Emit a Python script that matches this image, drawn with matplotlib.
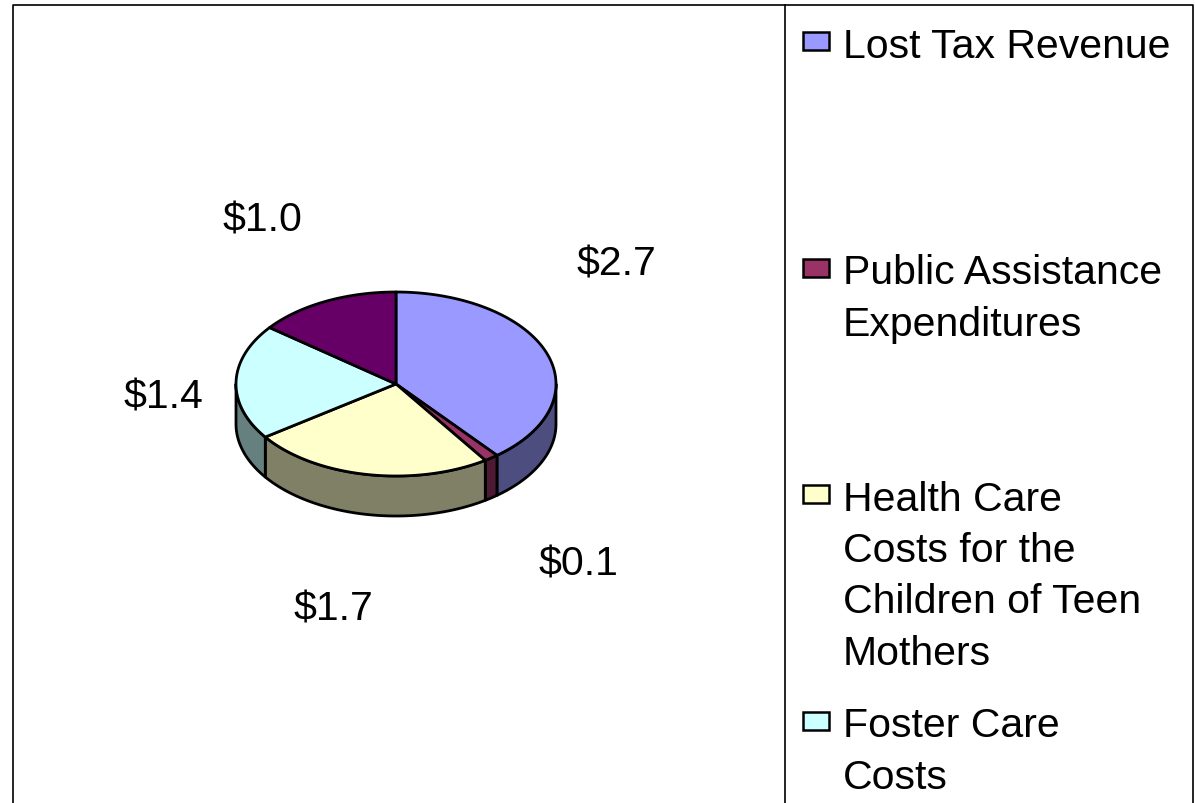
import numpy as np
import matplotlib.pyplot as plt
from matplotlib.patches import Polygon, Rectangle

plt.rcParams['font.family'] = ['Liberation Sans', 'DejaVu Sans']

# ---- data ----
categories = ["Lost Tax Revenue", "Public Assistance Expenditures",
              "Health Care Costs for the Children of Teen Mothers",
              "Foster Care Costs", "Other"]
legend_labels = ["Lost Tax Revenue", "Public Assistance\nExpenditures",
                 "Health Care\nCosts for the\nChildren of Teen\nMothers",
                 "Foster Care\nCosts"]
values = [2.7, 0.1, 1.7, 1.4, 1.0]
value_labels = ["$2.7", "$0.1", "$1.7", "$1.4", "$1.0"]
top_colors = ["#9999FF", "#993366", "#FFFFCC", "#CCFFFF", "#660066"]
side_colors = ["#4D4D80", "#4D1A33", "#808066", "#668080", "#330033"]

# ---- layout (pixels, y down) ----
W, H = 1195, 804
cx, cy, rx, ry, depth = 396, 385, 160, 92, 40
label_pos = [(616, 265), (578, 565), (333, 610), (163, 398), (262, 220)]
lw = 2.0
fs = 29.5

fig = plt.figure(figsize=(W / 100, H / 100), dpi=100)
ax = fig.add_axes([0, 0, 1, 1])
ax.set_xlim(0, W)
ax.set_ylim(H, 0)
ax.axis('off')


def pt(t, dy=0):
    return cx + rx * np.cos(t), cy - ry * np.sin(t) + dy


total = sum(values)
bounds = 90 - np.concatenate([[0], np.cumsum(values)]) / total * 360

# side walls (front half only: angles -180..0)
for i, v in enumerate(values):
    a1, a2 = bounds[i], bounds[i + 1]
    hi, lo = min(a1, 0), max(a2, -180)
    if hi <= lo:
        continue
    t = np.radians(np.linspace(hi, lo, 60))
    xs, ys = pt(t)
    xb, yb = pt(t[::-1], depth)
    poly = np.column_stack([np.concatenate([xs, xb]), np.concatenate([ys, yb])])
    ax.add_patch(Polygon(poly, closed=True, facecolor=side_colors[i],
                         edgecolor='black', lw=lw, joinstyle='round'))

# top faces
for i, v in enumerate(values):
    t = np.radians(np.linspace(bounds[i], bounds[i + 1], 80))
    xs, ys = pt(t)
    poly = np.column_stack([np.concatenate([[cx], xs]), np.concatenate([[cy], ys])])
    ax.add_patch(Polygon(poly, closed=True, facecolor=top_colors[i],
                         edgecolor='black', lw=lw, joinstyle='round'))

for lab, (x, y) in zip(value_labels, label_pos):
    ax.text(x, y, lab, fontsize=fs, ha='center', va='center')

# frame and legend box
ax.plot([13, 13, 1193, 1193], [H + 5, 6, 6, H + 5], color='black', lw=1.2)
ax.plot([785, 785], [6, H + 5], color='black', lw=1.2)

# legend entries
for i, lab in enumerate(legend_labels):
    top = 28 + i * 226.5
    ax.add_patch(Rectangle((803, top + 5), 26, 18, facecolor=top_colors[i],
                           edgecolor='black', lw=1.8))
    ax.text(843, top, lab, fontsize=fs, ha='left', va='top', linespacing=1.44)

fig.savefig("out.png", dpi=100)
